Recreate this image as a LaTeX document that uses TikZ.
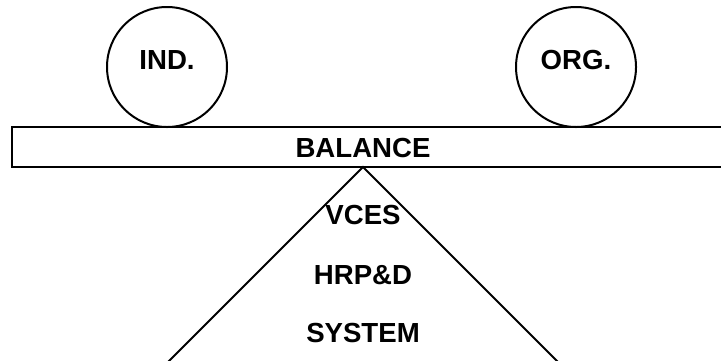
\documentclass[tikz,border=0pt]{standalone}
\usepackage{fontspec}
\setmainfont{Liberation Sans}
\begin{document}
\begin{tikzpicture}[x=0.5pt, y=-0.5pt, line width=1pt,
  label text/.style={font=\bfseries\fontsize{13.8}{16}\selectfont, inner sep=0pt},
  weight/.style={draw, circle, minimum size=60pt, inner sep=0pt}]
  \useasboundingbox (0,0) rectangle (721,360);
  \clip (0,0) rectangle (721,360);

  % Weights
  \node[weight] (ind) at (167,67) {};
  \node[weight] (org) at (576,67) {};
  \node[label text] (indlabel) at ([yshift=3.5pt]ind.center) {IND.};
  \node[label text] (orglabel) at ([yshift=3.5pt]org.center) {ORG.};

  % Beam
  \draw (12,127) rectangle (740,167);
  \node[label text] (balance) at (363,148) {BALANCE};

  % Fulcrum
  \coordinate (apex) at (363,167);
  \coordinate (leftfoot) at (163,367);
  \coordinate (rightfoot) at (563,367);
  \draw (leftfoot) -- (apex) -- (rightfoot);

  \node[label text] (vces) at (363,215) {VCES};
  \node[label text] (hrpd) at (363,275) {HRP\&D};
  \node[label text] (system) at (363,333) {SYSTEM};
\end{tikzpicture}
\end{document}
